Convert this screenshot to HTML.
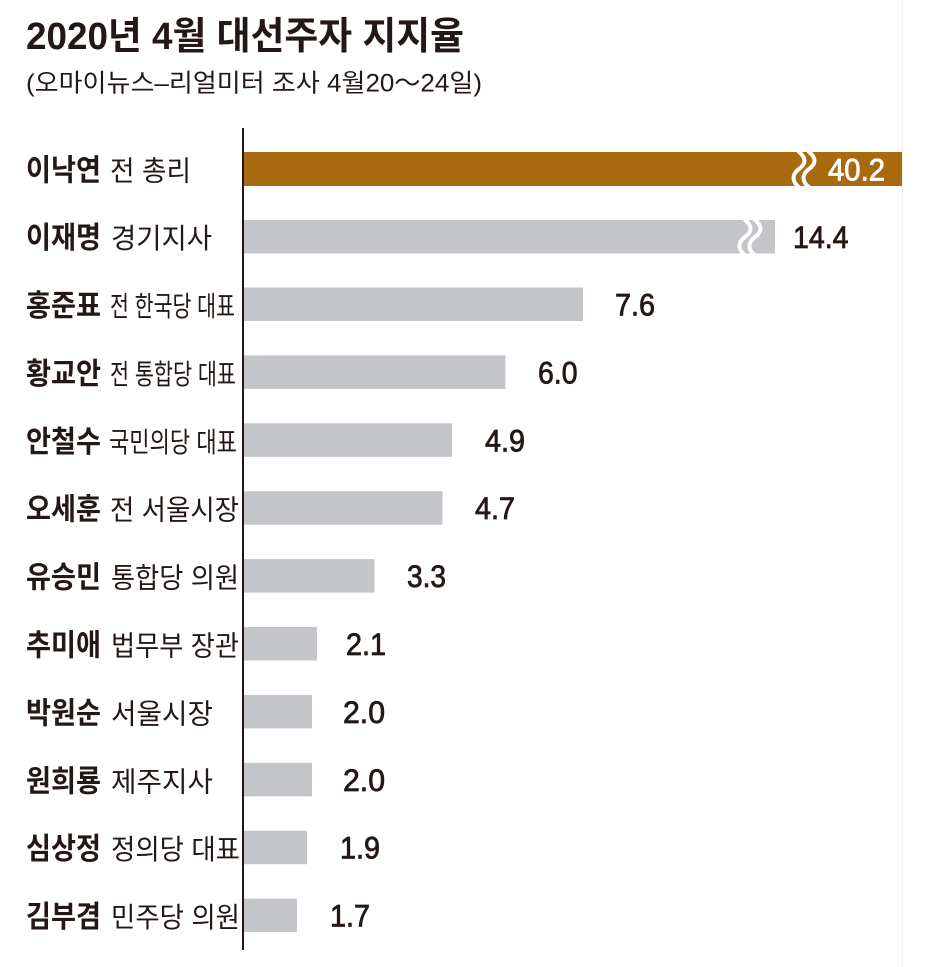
<!DOCTYPE html>
<html>
<head>
<meta charset="utf-8">
<style>
  html,body{margin:0;padding:0;background:#fff;}
  body{width:935px;height:967px;overflow:hidden;}
  svg{display:block;}
  .t{font-family:"Liberation Sans","Noto Sans CJK KR",sans-serif;fill:#231815;}
  .b{font-weight:700;}
  .v{font-family:"Liberation Sans",sans-serif;fill:#231815;stroke:#231815;stroke-width:0.8;}
</style>
</head>
<body>
<svg width="935" height="967" viewBox="0 0 935 967" xmlns="http://www.w3.org/2000/svg">
  <rect x="0" y="0" width="935" height="967" fill="#fff"/>
  <line x1="902.5" y1="0" x2="902.5" y2="967" stroke="#f1f1f1" stroke-width="1"/>

  <!-- Title -->
  <text class="t b" x="26" y="49" font-size="38" textLength="438" lengthAdjust="spacingAndGlyphs">2020년 4월 대선주자 지지율</text>
  <text class="t" x="26" y="91.5" font-size="25" textLength="456" lengthAdjust="spacingAndGlyphs">(오마이뉴스–리얼미터 조사 4월20～24일)</text>

  <!-- Bars -->
  <rect x="244" y="152" width="658" height="34" fill="#A9690F"/>
  <rect x="244" y="220" width="531" height="33.5" fill="#C4C5C9"/>
  <rect x="244" y="287.5" width="339" height="33.5" fill="#C4C5C9"/>
  <rect x="244" y="355.4" width="261.5" height="33.5" fill="#C4C5C9"/>
  <rect x="244" y="423.3" width="208" height="33.5" fill="#C4C5C9"/>
  <rect x="244" y="491.2" width="198.5" height="33.5" fill="#C4C5C9"/>
  <rect x="244" y="559.1" width="130.5" height="33.5" fill="#C4C5C9"/>
  <rect x="244" y="627" width="73" height="33.5" fill="#C4C5C9"/>
  <rect x="244" y="694.9" width="68" height="33.5" fill="#C4C5C9"/>
  <rect x="244" y="762.8" width="68" height="33.5" fill="#C4C5C9"/>
  <rect x="244" y="830.7" width="63" height="33.5" fill="#C4C5C9"/>
  <rect x="244" y="898.6" width="53" height="33.5" fill="#C4C5C9"/>

  <!-- Break marks -->
  <g fill="none" stroke="#fff" stroke-width="4">
    <path d="M798,151 C807,158 806,164 799,169 C791,175 792,182 800,188"/>
    <path d="M808,151 C817,158 816,164 809,169 C801,175 802,182 810,188"/>
    <path d="M744,219 C753,226 752,232 745,237 C737,243 738,250 746,256"/>
    <path d="M754,219 C763,226 762,232 755,237 C747,243 748,250 756,256"/>
  </g>

  <!-- Axis -->
  <line x1="243" y1="128" x2="243" y2="950" stroke="#231815" stroke-width="2"/>

  <!-- Labels -->
  <g font-size="30">
    <text class="t b" x="26" y="180.5" textLength="75" lengthAdjust="spacingAndGlyphs">이낙연</text>
    <text class="t b" x="26" y="248.1" textLength="75" lengthAdjust="spacingAndGlyphs">이재명</text>
    <text class="t b" x="26" y="316" textLength="75" lengthAdjust="spacingAndGlyphs">홍준표</text>
    <text class="t b" x="26" y="383.9" textLength="75" lengthAdjust="spacingAndGlyphs">황교안</text>
    <text class="t b" x="26" y="451.8" textLength="75" lengthAdjust="spacingAndGlyphs">안철수</text>
    <text class="t b" x="26" y="519.7" textLength="75" lengthAdjust="spacingAndGlyphs">오세훈</text>
    <text class="t b" x="26" y="587.6" textLength="75" lengthAdjust="spacingAndGlyphs">유승민</text>
    <text class="t b" x="26" y="655.5" textLength="75" lengthAdjust="spacingAndGlyphs">추미애</text>
    <text class="t b" x="26" y="723.4" textLength="75" lengthAdjust="spacingAndGlyphs">박원순</text>
    <text class="t b" x="26" y="791.3" textLength="75" lengthAdjust="spacingAndGlyphs">원희룡</text>
    <text class="t b" x="26" y="859.2" textLength="75" lengthAdjust="spacingAndGlyphs">심상정</text>
    <text class="t b" x="26" y="927.1" textLength="75" lengthAdjust="spacingAndGlyphs">김부겸</text>
  </g>
  <g font-size="28">
    <text class="t" x="110" y="180.5" textLength="81" lengthAdjust="spacingAndGlyphs">전 총리</text>
    <text class="t" x="111" y="248.1" textLength="101" lengthAdjust="spacingAndGlyphs">경기지사</text>
    <text class="t" x="110" y="316" textLength="125" lengthAdjust="spacingAndGlyphs">전 한국당 대표</text>
    <text class="t" x="110" y="383.9" textLength="126" lengthAdjust="spacingAndGlyphs">전 통합당 대표</text>
    <text class="t" x="109" y="451.8" textLength="128" lengthAdjust="spacingAndGlyphs">국민의당 대표</text>
    <text class="t" x="110" y="519.7" textLength="129" lengthAdjust="spacingAndGlyphs">전 서울시장</text>
    <text class="t" x="111" y="587.6" textLength="128" lengthAdjust="spacingAndGlyphs">통합당 의원</text>
    <text class="t" x="111" y="655.5" textLength="128" lengthAdjust="spacingAndGlyphs">법무부 장관</text>
    <text class="t" x="111" y="723.4" textLength="102" lengthAdjust="spacingAndGlyphs">서울시장</text>
    <text class="t" x="111" y="791.3" textLength="102" lengthAdjust="spacingAndGlyphs">제주지사</text>
    <text class="t" x="111" y="859.2" textLength="129" lengthAdjust="spacingAndGlyphs">정의당 대표</text>
    <text class="t" x="111" y="927.1" textLength="129" lengthAdjust="spacingAndGlyphs">민주당 의원</text>
  </g>

  <!-- Values -->
  <g font-size="31.5">
    <text class="v" x="828" y="180.7" textLength="57" lengthAdjust="spacingAndGlyphs" style="fill:#fff;stroke:#fff">40.2</text>
    <text class="v" x="793" y="248" textLength="55.5" lengthAdjust="spacingAndGlyphs">14.4</text>
    <text class="v" x="615" y="315.5" textLength="40" lengthAdjust="spacingAndGlyphs">7.6</text>
    <text class="v" x="538" y="383.4" textLength="39.5" lengthAdjust="spacingAndGlyphs">6.0</text>
    <text class="v" x="485" y="451.3" textLength="40" lengthAdjust="spacingAndGlyphs">4.9</text>
    <text class="v" x="475" y="519.2" textLength="40" lengthAdjust="spacingAndGlyphs">4.7</text>
    <text class="v" x="407" y="587.1" textLength="39" lengthAdjust="spacingAndGlyphs">3.3</text>
    <text class="v" x="346" y="655" textLength="40" lengthAdjust="spacingAndGlyphs">2.1</text>
    <text class="v" x="343" y="722.9" textLength="42" lengthAdjust="spacingAndGlyphs">2.0</text>
    <text class="v" x="343" y="790.8" textLength="42" lengthAdjust="spacingAndGlyphs">2.0</text>
    <text class="v" x="340" y="858.7" textLength="40" lengthAdjust="spacingAndGlyphs">1.9</text>
    <text class="v" x="330" y="926.6" textLength="40" lengthAdjust="spacingAndGlyphs">1.7</text>
  </g>
</svg>
</body>
</html>
